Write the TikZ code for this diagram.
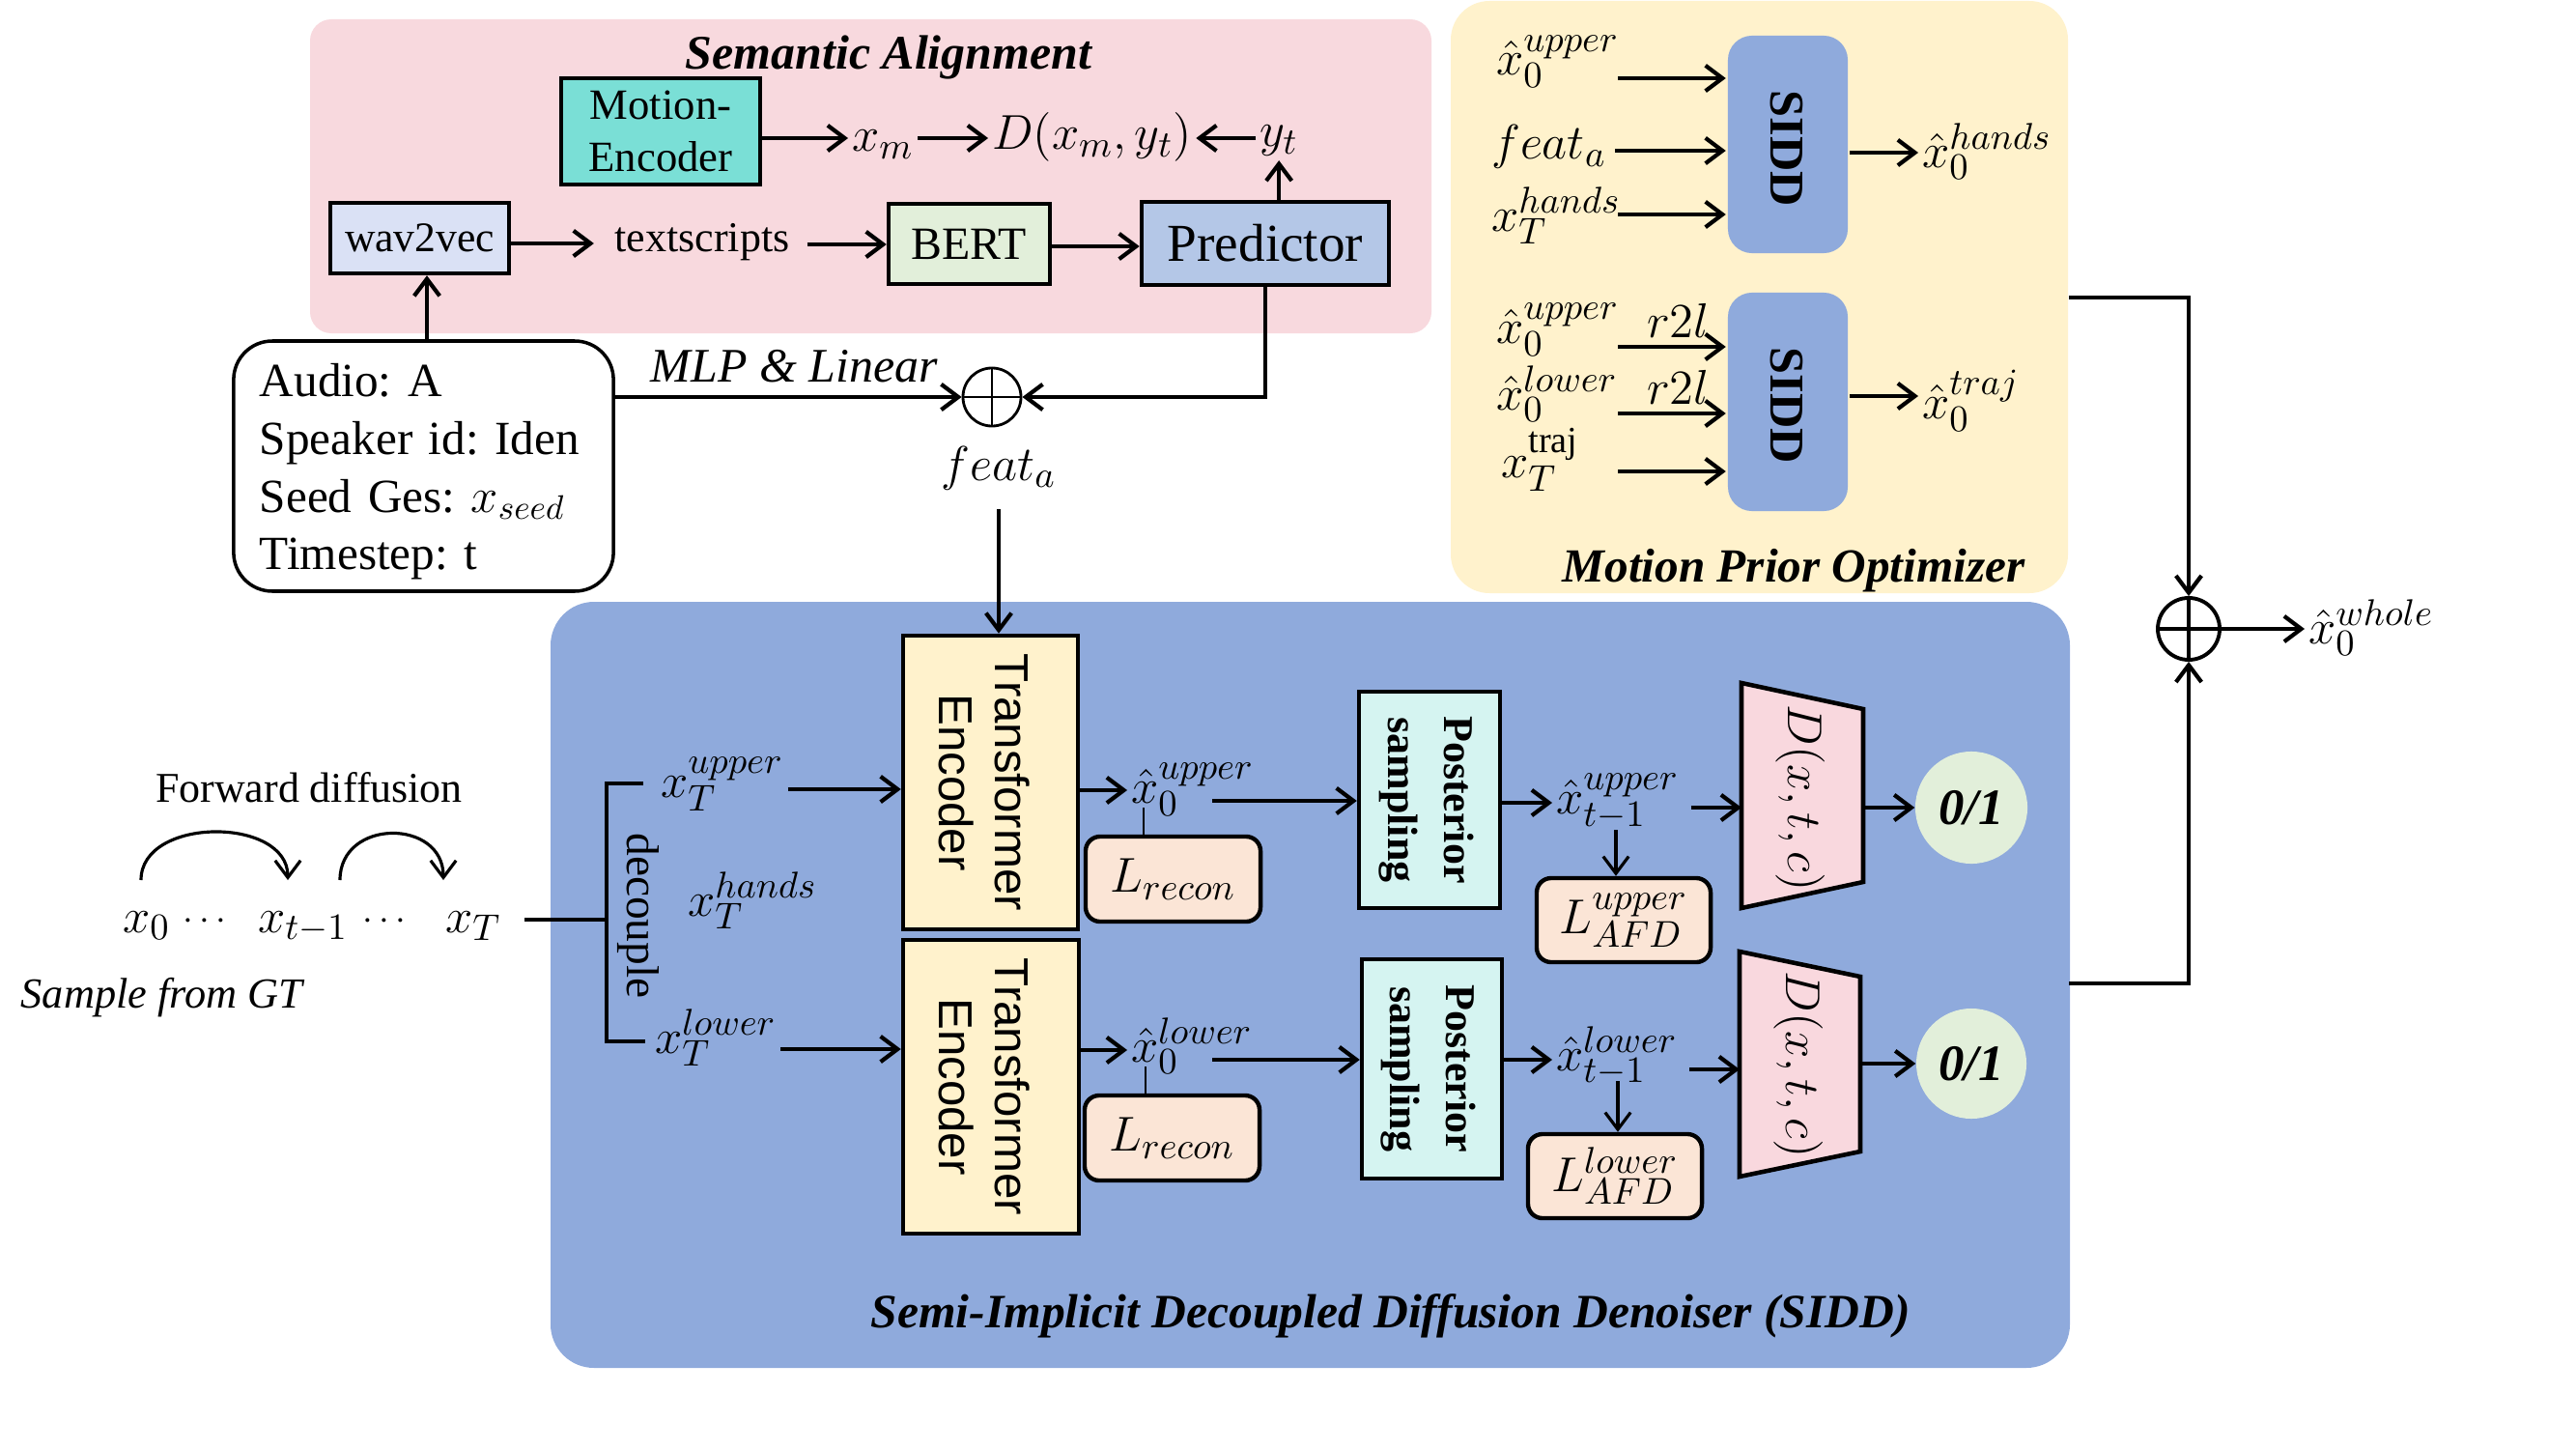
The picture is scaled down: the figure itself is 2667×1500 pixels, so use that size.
\documentclass[tikz,border=0pt]{standalone}
\usepackage{fontspec}
\setmainfont{Liberation Serif}
\setsansfont{Liberation Sans}
\usetikzlibrary{arrows.meta}
\newcommand{\fsz}[2]{\fontsize{#1}{#2}\selectfont}
\frenchspacing
\definecolor{cpink}{RGB}{248,217,222}
\definecolor{cyel}{RGB}{255,242,204}
\definecolor{cblue}{RGB}{143,170,220}
\definecolor{cteal}{RGB}{122,223,214}
\definecolor{clav}{RGB}{218,225,245}
\definecolor{cgreen}{RGB}{226,239,218}
\definecolor{cpred}{RGB}{180,199,231}
\definecolor{ccyan}{RGB}{213,244,241}
\definecolor{cpeach}{RGB}{251,229,214}
\definecolor{cdpink}{RGB}{249,216,222}
\begin{document}
\begin{tikzpicture}[x=0.01cm,y=-0.01cm,
  box/.style={draw,line width=1.25pt,inner sep=0pt},
  lbox/.style={box,rounded corners=0.15cm,fill=cpeach,minimum width=1.81cm,minimum height=0.88cm,font=\fsz{15pt}{15pt}},
  lbl/.style={inner sep=1pt,font=\fsz{15.5pt}{16pt}},
  arr/.style={line width=1.2pt,-{Straight Barb[length=5pt,width=7.5pt]}},
  conn/.style={line width=1.2pt},
  thinln/.style={line width=0.8pt},
  rtxt/.style={rotate=-90,align=center,inner sep=0pt}]
\useasboundingbox (0,0) rectangle (2667,1500);
% panels
\fill[cpink, rounded corners=0.22cm] (321,20) rectangle (1482,345);
\fill[cyel, rounded corners=0.4cm] (1502,1) rectangle (2141,614);
\fill[cblue, rounded corners=0.45cm] (570,623) rectangle (2143,1416);

% ---------- Semantic alignment ----------
\node[anchor=base,font=\bfseries\itshape\fsz{14.2pt}{15pt}] (sat) at (920,72) {Semantic Alignment};
\node[box,fill=cteal,minimum width=2.06cm,minimum height=1.10cm,align=center,font=\fsz{12.7pt}{15.4pt}] (me) at (684,136) {Motion-\\Encoder};
\node[box,fill=clav,minimum width=1.85cm,minimum height=0.73cm,font=\fsz{12.4pt}{13pt}] (wav) at (434.5,246.5) {wav2vec};
\node[anchor=base,inner sep=1pt,font=\fsz{12.5pt}{13pt}] (ts) at (727,260) {textscripts};
\node[box,fill=cgreen,minimum width=1.67cm,minimum height=0.83cm,font=\fsz{13.6pt}{14pt}] (bert) at (1003.5,252.5) {BERT};
\node[box,fill=cpred,minimum width=2.56cm,minimum height=0.86cm,font=\fsz{15.7pt}{16pt}] (pred) at (1310,252) {Predictor};
\node[lbl,anchor=base west] (xm) at (878,157) {$x_m$};
\node[lbl,anchor=base west] (dxy) at (1023,155) {$D(x_m,y_t)$};
\node[lbl,anchor=base west] (yt) at (1300,152) {$y_t$};
\draw[arr] (me.east |- 0,143) -- (xm.west |- 0,143);
\draw[arr] (xm.east |- 0,143) -- (dxy.west |- 0,143);
\draw[arr] (yt.west |- 0,143) -- (dxy.east |- 0,143);
\draw[arr] (pred.north -| yt.south) -- (yt.south);
\draw[arr,shorten >=5pt] (wav.east |- 0,252) -- (ts.west |- 0,252);
\draw[arr] (ts.east |- 0,253) ++(14,0) -- (bert.west |- 0,253);
\draw[arr] (bert.east |- 0,255) -- (pred.west |- 0,255);

% ---------- inputs ----------
\node[draw,line width=1pt,rounded corners=0.4cm,minimum width=3.93cm,minimum height=2.51cm,text width=3.39cm,align=left,inner xsep=0.27cm,font=\fsz{14pt}{17pt}] (audio) at (438.5,482.5) {\rule{0pt}{13pt}Audio: A\\Speaker id: Iden\\Seed Ges: $x_{seed}$\\Timestep: t};
\draw[arr] (audio.north -| 442,0) -- (wav.south -| 442,0);
\node[circle,draw,line width=0.8pt,minimum size=0.6cm,inner sep=0pt] (op1) at (1027,411) {};
\draw[thinln] (op1.north) -- (op1.south) (op1.west) -- (op1.east);
\draw[arr] (audio.east |- op1) -- (op1.west);
\draw[arr] (pred.south) |- (op1.east);
\node[anchor=base west,inner sep=0pt,font=\itshape\fsz{14.2pt}{15pt}] (mlp) at (673,395) {MLP \& Linear};
\node[lbl,anchor=base] (fa) at (1034,497) {$feat_a$};

% ---------- forward diffusion ----------
\node[anchor=base,font=\fsz{12.5pt}{13pt}] (fwd) at (320,830) {Forward diffusion};
\node[lbl,anchor=base west] (fx0) at (123,965) {$x_0$};
\node[lbl,anchor=base,font=\fsz{11pt}{12pt}] (fd1) at (212,962) {$\cdots$};
\node[lbl,anchor=base west] (fxt) at (263,965) {$x_{t-1}$};
\node[lbl,anchor=base,font=\fsz{11pt}{12pt}] (fd2) at (398,962) {$\cdots$};
\node[lbl,anchor=base west] (fxT) at (457,965) {$x_T$};
\coordinate (a1s) at (146,911); \coordinate (a1e) at (298,911);
\coordinate (a2s) at (352,911); \coordinate (a2e) at (459,911);
\draw[arr,line width=0.9pt] (a1s) .. controls (146,845) and (298,845) .. (a1e);
\draw[arr,line width=0.9pt] (a2s) .. controls (352,847) and (459,847) .. (a2e);
\node[anchor=base west,font=\itshape\fsz{12.6pt}{13pt},inner sep=0pt] (sgt) at (21,1043) {Sample from GT};
\draw[conn,line width=1.3pt] (fxT.east |- 0,952) ++(20,0) -- (628,952);
\draw[line width=1.3pt] (666,811) -- (628,811) -- (628,1078) -- (668,1078);
\node[rtxt,font=\fsz{13.5pt}{14pt}] (dec) at (661,948) {decouple};

% ---------- SIDD block ----------
\node[lbl,anchor=base west] (xu) at (680,825) {$x_T^{upper}$};
\node[lbl,anchor=base west] (xh) at (708,948) {$x_T^{hands}$};
\node[lbl,anchor=base west] (xl) at (674,1090) {$x_T^{lower}$};
\node[box,fill=cyel,minimum width=1.81cm,minimum height=3.04cm] (t1) at (1025.5,810) {};
\node[box,fill=cyel,minimum width=1.82cm,minimum height=3.04cm] (t2) at (1026,1125) {};
\node[rtxt,font=\sffamily\fsz{14pt}{16.5pt}] (t1t) at (1019,810) {Transformer\\Encoder};
\node[rtxt,font=\sffamily\fsz{14pt}{16.5pt}] (t2t) at (1019,1125) {Transformer\\Encoder};
\draw[arr] (fa.south) ++(0,16) -- (fa.south |- t1.north);
\draw[arr] (xu.east |- 0,817) -- (t1.west |- 0,817);
\draw[arr] (xl.east |- 0,1086) -- (t2.west |- 0,1086);

\node[box,fill=ccyan,minimum width=1.46cm,minimum height=2.24cm] (p1) at (1480,828) {};
\node[box,fill=ccyan,minimum width=1.45cm,minimum height=2.27cm] (p2) at (1482.5,1106.5) {};
\node[rtxt,font=\bfseries\fsz{12.5pt}{16.5pt}] (p1t) at (1477,828) {Posterior\\sampling};
\node[rtxt,font=\bfseries\fsz{12.5pt}{16.5pt}] (p2t) at (1479,1106.5) {Posterior\\sampling};

\node[lbox] (lr1) at (1214.5,910) {$L_{recon}$};
\node[lbox] (lr2) at (1213.5,1178) {$L_{recon}$};
\node[lbox,minimum width=1.80cm,minimum height=0.87cm] (la1) at (1681,952.5) {$L_{AFD}^{upper}$};
\node[lbox,minimum width=1.80cm,minimum height=0.87cm] (la2) at (1672,1217.5) {$L_{AFD}^{lower}$};

\node[lbl,anchor=base west] (x0u) at (1167,831) {$\hat{x}_0^{upper}$};
\node[lbl,anchor=base west] (x0l) at (1167,1099) {$\hat{x}_0^{lower}$};
\node[lbl,anchor=base west] (xtu) at (1607,842) {$\hat{x}_{t-1}^{upper}$};
\node[lbl,anchor=base west] (xtl) at (1607,1108) {$\hat{x}_{t-1}^{lower}$};

\draw[arr] (t1.east |- 0,818) -- (x0u.west |- 0,818);
\draw[arr] (t2.east |- 0,1087) -- (x0l.west |- 0,1087);
\coordinate (x0uo) at (1255,829); \coordinate (x0lo) at (1255,1097);
\draw[arr] (x0uo) -- (p1.west |- x0uo);
\draw[arr] (x0lo) -- (p2.west |- x0lo);
\coordinate (x0ub) at (1184,836); \coordinate (x0lb) at (1186,1104);
\draw[thinln] (lr1.north -| x0ub) -- (x0ub);
\draw[thinln] (lr2.north -| x0lb) -- (x0lb);
\draw[arr] (p1.east |- 0,831) -- (xtu.west |- 0,831);
\draw[arr] (p2.east |- 0,1097) -- (xtl.west |- 0,1097);
\coordinate (xtud) at (1673,859); \coordinate (xtld) at (1675,1119);
\draw[arr,line width=0.9pt] (xtud) -- (xtud |- la1.north);
\draw[arr,line width=0.9pt] (xtld) -- (xtld |- la2.north);

% discriminators
\draw[line width=1.3pt,fill=cdpink] (1803,707) -- (1929,734) -- (1929,913) -- (1803,940) -- cycle;
\draw[line width=1.3pt,fill=cdpink] (1801,985) -- (1926,1011) -- (1926,1192) -- (1801,1218) -- cycle;
\node[rtxt,font=\fsz{13.5pt}{14pt}] (d1t) at (1864,826) {$D(x,t,c)$};
\node[rtxt,font=\fsz{13.5pt}{14pt}] (d2t) at (1862,1102) {$D(x,t,c)$};
\coordinate (d1in) at (1803,836); \coordinate (d1out) at (1929,836);
\coordinate (d2in) at (1801,1107); \coordinate (d2out) at (1926,1101);
\draw[arr] (xtu.east |- d1in) ++(8,0) -- (d1in);
\draw[arr] (xtl.east |- d2in) ++(8,0) -- (d2in);
\node[circle,fill=cgreen,minimum size=1.16cm,inner sep=0pt,font=\bfseries\itshape\fsz{15pt}{15pt}] (c1) at (2041,836) {0/1};
\node[circle,fill=cgreen,minimum size=1.14cm,inner sep=0pt,font=\bfseries\itshape\fsz{15pt}{15pt}] (c2) at (2041,1101) {0/1};
\draw[arr] (d1out) -- (c1.west);
\draw[arr] (d2out) -- (c2.west);

\node[anchor=base west,inner sep=0pt,font=\bfseries\itshape\fsz{14.1pt}{15pt}] (sidt) at (901,1374) {Semi-Implicit Decoupled Diffusion Denoiser (SIDD)};

% ---------- Motion prior optimizer ----------
\node[box,draw=none,fill=cblue,rounded corners=0.25cm,minimum width=1.24cm,minimum height=2.25cm] (s1) at (1851,149.5) {};
\node[box,draw=none,fill=cblue,rounded corners=0.25cm,minimum width=1.24cm,minimum height=2.26cm] (s2) at (1851,416) {};
\node[rtxt,font=\bfseries\fsz{14.3pt}{15pt}] (s1t) at (1850,154) {SIDD};
\node[rtxt,font=\bfseries\fsz{14.3pt}{15pt}] (s2t) at (1850,420) {SIDD};
\node[lbl,anchor=base west] (q1) at (1545,78) {$\hat{x}_0^{upper}$};
\node[lbl,anchor=base west] (q2) at (1540,165) {$feat_a$};
\node[lbl,anchor=base west] (q3) at (1540,239) {$x_T^{hands}$};
\node[lbl,anchor=base west] (q4) at (1545,355) {$\hat{x}_0^{upper}$};
\node[lbl,anchor=base west] (q5) at (1545,424) {$\hat{x}_0^{lower}$};
\node[lbl,anchor=base west] (q6) at (1550,494) {$x_T^{\mathrm{traj}}$};
\node[lbl,anchor=base west] (r1) at (1701,349) {$r2l$};
\node[lbl,anchor=base west] (r2) at (1701,418) {$r2l$};
\node[lbl,anchor=base west] (h1) at (1986,173) {$\hat{x}_0^{hands}$};
\node[lbl,anchor=base west] (h2) at (1986,433) {$\hat{x}_0^{traj}$};
\coordinate (e1) at (1675,81); \coordinate (e2) at (1672,156); \coordinate (e3) at (1675,222);
\coordinate (e4) at (1675,359); \coordinate (e5) at (1675,428); \coordinate (e6) at (1675,488);
\draw[arr] (e1) -- (s1.west |- e1);
\draw[arr] (e2) -- (s1.west |- e2);
\draw[arr] (e3) -- (s1.west |- e3);
\draw[arr] (e4) -- (s2.west |- e4);
\draw[arr] (e5) -- (s2.west |- e5);
\draw[arr] (e6) -- (s2.west |- e6);
\draw[arr] (s1.east |- 0,158) -- (h1.west |- 0,158);
\draw[arr] (s2.east |- 0,410) -- (h2.west |- 0,410);
\node[anchor=base west,inner sep=0pt,font=\bfseries\itshape\fsz{14pt}{15pt}] (mpo) at (1617,602) {Motion Prior Optimizer};

% ---------- fusion ----------
\node[circle,draw,line width=1.1pt,minimum size=0.64cm,inner sep=0pt] (op2) at (2266,651) {};
\draw[line width=0.9pt] (op2.north) -- (op2.south) (op2.west) -- (op2.east);
\coordinate (yo) at (2142,308); \coordinate (bo) at (2142,1018);
\draw[arr] (yo) -| (op2.north);
\draw[arr] (bo) -| (op2.south);
\node[lbl,anchor=base west] (whole) at (2386,666) {$\hat{x}_0^{whole}$};
\draw[arr] (op2.east) -- (whole.west |- op2.east);
\end{tikzpicture}
\end{document}
